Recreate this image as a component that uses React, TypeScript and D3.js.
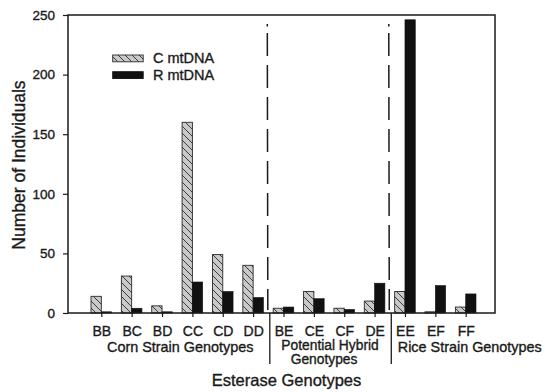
import React, { useEffect, useRef } from 'react';
import * as d3 from 'd3';

const genotypes = ['BB', 'BC', 'BD', 'CC', 'CD', 'DD', 'BE', 'CE', 'CF', 'DE', 'EE', 'EF', 'FF'];
const cMtDNA = [14, 31, 6, 160, 49, 40, 4, 18, 4, 10, 18, 1, 5];
const rMtDNA = [1, 4, 1, 26, 18, 13, 5, 12, 3, 25, 246, 23, 16];
const yTicks = [0, 50, 100, 150, 200, 250];
const groupSizes = [6, 4, 3];
const seriesNames = ['C mtDNA', 'R mtDNA'];

const FONT = '"Liberation Sans", Arial, Helvetica, sans-serif';
const INK = '#1a1a1a';
const TEXT_STROKE = 0.35; // scanned print looks a little heavier

const App: React.FC = () => {
  const svgRef = useRef<SVGSVGElement | null>(null);

  useEffect(() => {
    if (!svgRef.current) return;
    const width = 545;
    const height = 392;
    const plot = { left: 68, right: 495, top: 15, bottom: 313 };
    const barW = 10.3;

    const svg = d3.select(svgRef.current)
      .attr('width', width)
      .attr('height', height);
    svg.selectAll('*').remove();

    // hatch for C mtDNA bars
    const defs = svg.append('defs');
    const pat = defs.append('pattern')
      .attr('id', 'hatch')
      .attr('patternUnits', 'userSpaceOnUse')
      .attr('width', 7)
      .attr('height', 7);
    pat.append('rect').attr('width', 7).attr('height', 7).attr('fill', '#c9c9c9');
    pat.append('path')
      .attr('d', 'M-1,-1 L8,8 M-1,6 L1,8 M6,-1 L8,1')
      .attr('stroke', '#3a3a3a')
      .attr('stroke-width', 1);

    const x = d3.scalePoint<string>()
      .domain(genotypes)
      .range([101.3, 465.7]);

    const y = d3.scaleLinear()
      .domain([0, 250])
      .range([plot.bottom, plot.top]);

    // bars
    const g = svg.append('g');
    g.selectAll('rect.c')
      .data(genotypes)
      .enter()
      .append('rect')
      .attr('class', 'c')
      .attr('x', d => x(d)! - barW)
      .attr('y', (d, i) => y(cMtDNA[i]))
      .attr('width', barW)
      .attr('height', (d, i) => y(0) - y(cMtDNA[i]))
      .attr('fill', 'url(#hatch)')
      .attr('stroke', '#2a2a2a')
      .attr('stroke-width', 0.9);

    g.selectAll('rect.r')
      .data(genotypes)
      .enter()
      .append('rect')
      .attr('class', 'r')
      .attr('x', d => x(d)!)
      .attr('y', (d, i) => y(rMtDNA[i]))
      .attr('width', barW)
      .attr('height', (d, i) => y(0) - y(rMtDNA[i]))
      .attr('fill', '#111')
      .attr('stroke', '#111')
      .attr('stroke-width', 0.6);

    // axes
    const yAxis = svg.append('g')
      .attr('transform', `translate(${plot.left},0)`)
      .call(d3.axisLeft(y).tickValues(yTicks).tickSize(5).tickPadding(8));
    yAxis.select('.domain').remove();
    yAxis.selectAll('line').attr('stroke', INK).attr('stroke-width', 1.2);
    yAxis.selectAll('text')
      .attr('font-family', FONT)
      .attr('font-size', 13.5)
      .attr('fill', INK)
      .attr('stroke', INK)
      .attr('stroke-width', TEXT_STROKE);

    const xAxis = svg.append('g')
      .attr('transform', `translate(0,${plot.bottom})`)
      .call(d3.axisBottom(x).tickSize(4).tickPadding(9.5));
    xAxis.select('.domain').remove();
    xAxis.selectAll('line').attr('stroke', INK).attr('stroke-width', 1.2);
    xAxis.selectAll('text')
      .attr('font-family', FONT)
      .attr('font-size', 14)
      .attr('fill', INK)
      .attr('stroke', INK)
      .attr('stroke-width', TEXT_STROKE);

    // frame
    svg.append('rect')
      .attr('x', plot.left)
      .attr('y', plot.top)
      .attr('width', plot.right - plot.left)
      .attr('height', plot.bottom - plot.top)
      .attr('fill', 'none')
      .attr('stroke', INK)
      .attr('stroke-width', 1.5);

    // group dividers
    let start = 0;
    const groups = groupSizes.map(n => {
      const gs = genotypes.slice(start, start + n);
      start += n;
      return gs;
    });
    const dividers = groups.slice(0, -1).map((gs, i) => {
      const last = x(gs[gs.length - 1])!;
      const next = x(groups[i + 1][0])!;
      return (last + next) / 2;
    });
    dividers.forEach(dx => {
      svg.append('line')
        .attr('x1', dx - 1).attr('x2', dx - 1)
        .attr('y1', 24).attr('y2', 26.5)
        .attr('stroke', INK).attr('stroke-width', 1.5);
      svg.append('line')
        .attr('x1', dx - 1).attr('x2', dx - 0.5)
        .attr('y1', 33).attr('y2', plot.bottom - 3)
        .attr('stroke', INK).attr('stroke-width', 1.5)
        .attr('stroke-dasharray', '23 9');
      svg.append('line')
        .attr('x1', dx + 1.5).attr('x2', dx + 1.5)
        .attr('y1', plot.bottom).attr('y2', 364)
        .attr('stroke', INK).attr('stroke-width', 1.3);
    });

    // text helper
    const lab = (t: string, px: number, py: number, size: number, anchor = 'middle') =>
      svg.append('text')
        .attr('x', px)
        .attr('y', py)
        .attr('text-anchor', anchor)
        .attr('font-family', FONT)
        .attr('font-size', size)
        .attr('fill', INK)
        .attr('stroke', INK)
        .attr('stroke-width', TEXT_STROKE)
        .text(t);

    // group labels
    const corn = groups[0];
    lab('Corn Strain Genotypes', (x(corn[0])! + x(corn[corn.length - 1])!) / 2 + 3, 352, 14.4);
    const hyb = groups[1];
    const hybMid = (x(hyb[0])! + x(hyb[hyb.length - 1])!) / 2;
    lab('Potential Hybrid', hybMid + 1, 350, 13.8);
    lab('Genotypes', hybMid - 5, 364, 13.8);
    lab('Rice Strain Genotypes', dividers[1] + 8, 352, 14.4, 'start');

    // axis titles
    lab('Esterase Genotypes', 286.5, 386, 16.5);
    svg.append('text')
      .attr('transform', 'translate(25,165) rotate(-90)')
      .attr('text-anchor', 'middle')
      .attr('font-family', FONT)
      .attr('font-size', 17.5)
      .attr('fill', INK)
      .attr('stroke', INK)
      .attr('stroke-width', TEXT_STROKE)
      .text('Number of Individuals');

    // legend
    const legend = svg.append('g');
    seriesNames.forEach((name, i) => {
      const ly = 55 + i * 16.7;
      legend.append('rect')
        .attr('x', 112.7)
        .attr('y', ly)
        .attr('width', 30.5)
        .attr('height', 6.8)
        .attr('fill', i === 0 ? 'url(#hatch)' : '#111')
        .attr('stroke', i === 0 ? '#2a2a2a' : '#111')
        .attr('stroke-width', 0.9);
      legend.append('text')
        .attr('x', 153)
        .attr('y', ly + 8.3)
        .attr('font-family', FONT)
        .attr('font-size', 14.5)
        .attr('fill', INK)
        .attr('stroke', INK)
        .attr('stroke-width', TEXT_STROKE)
        .text(name);
    });
  }, []);

  return (
    <svg
      ref={svgRef}
      style={{ position: 'absolute', left: 0, top: 0, background: '#fff', display: 'block' }}
    ></svg>
  );
};

export default App;
